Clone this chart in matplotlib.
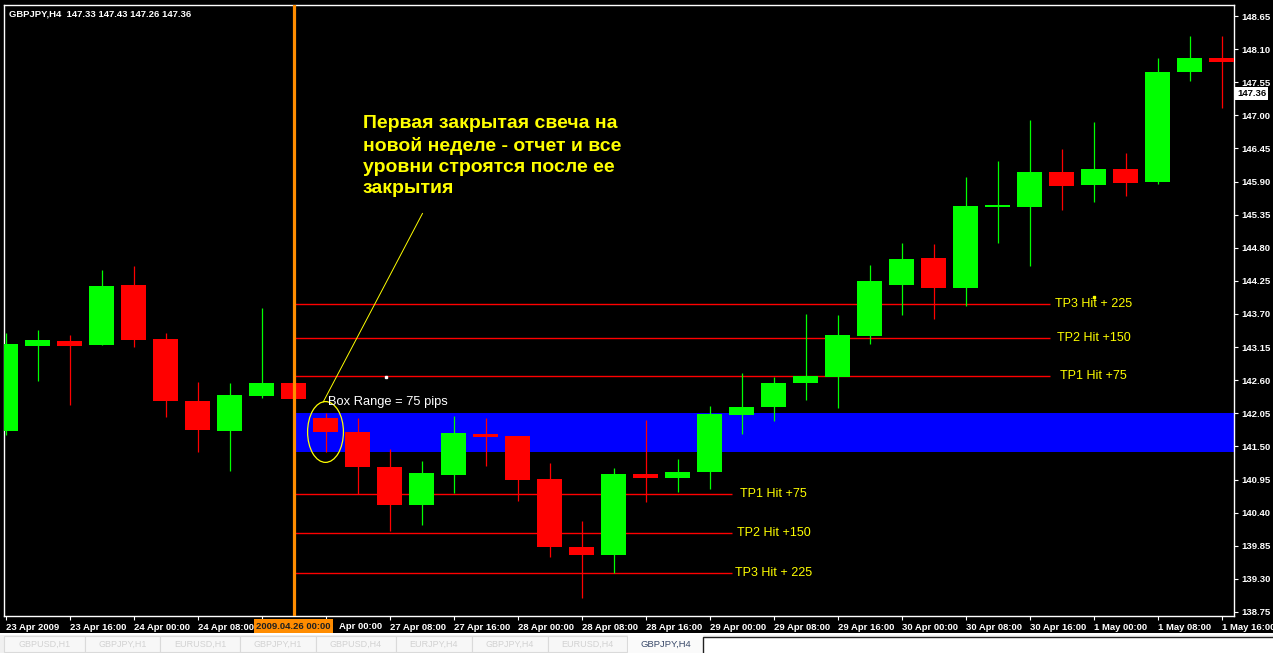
import numpy as np
import matplotlib.pyplot as plt
from matplotlib.patches import Ellipse, Rectangle
from matplotlib.transforms import blended_transform_factory, ScaledTranslation

plt.rcParams['font.family'] = ['Liberation Sans', 'DejaVu Sans']

# свечи GBPJPY H4
opens = [141.76, 143.17, 143.25, 143.18, 144.18, 143.28, 142.25, 141.76, 142.34, 142.55,
         141.97, 141.74, 141.16, 140.52, 141.03, 141.71, 141.67, 140.96, 139.83, 139.70,
         141.04, 140.98, 141.07, 142.02, 142.16, 142.55, 142.65, 143.33, 144.18, 144.63,
         144.13, 145.47, 145.48, 146.06, 145.84, 146.11, 145.89, 147.72, 147.96]
highs = [143.38, 143.43, 143.35, 144.43, 144.50, 143.38, 142.57, 142.55, 143.80, 142.57,
         142.06, 141.97, 141.46, 141.26, 142.01, 141.97, 141.67, 141.22, 140.26, 141.14,
         141.94, 141.29, 142.17, 142.72, 142.65, 143.70, 143.68, 144.51, 144.88, 144.86,
         145.98, 146.24, 146.92, 146.44, 146.89, 146.37, 147.95, 148.32, 148.32]
lows = [141.69, 142.59, 142.19, 143.18, 143.15, 141.99, 141.41, 141.09, 142.30, 142.27,
        141.41, 140.71, 140.10, 140.20, 140.73, 141.18, 140.60, 139.67, 138.99, 139.40,
        140.57, 140.74, 140.79, 141.71, 141.92, 142.27, 142.14, 143.20, 143.68, 143.62,
        143.83, 144.88, 144.50, 145.43, 145.56, 145.66, 145.86, 147.57, 147.12]
closes = [143.20, 143.27, 143.17, 144.16, 143.26, 142.25, 141.77, 142.35, 142.55, 142.29,
          141.74, 141.15, 140.52, 141.06, 141.72, 141.65, 140.95, 139.83, 139.69, 141.04,
          140.98, 141.07, 142.04, 142.16, 142.55, 142.67, 143.35, 144.25, 144.61, 144.13,
          145.49, 145.51, 146.06, 145.83, 146.11, 145.88, 147.72, 147.95, 147.89]

# подписи времени (24 Apr 16:00 и начало 27 Apr 00:00 закрыты меткой линии)
time_labels = ['23 Apr 2009', '23 Apr 16:00', '24 Apr 00:00', '24 Apr 08:00', '',
               '', '27 Apr 08:00', '27 Apr 16:00', '28 Apr 00:00', '28 Apr 08:00',
               '28 Apr 16:00', '29 Apr 00:00', '29 Apr 08:00', '29 Apr 16:00', '30 Apr 00:00',
               '30 Apr 08:00', '30 Apr 16:00', '1 May 00:00', '1 May 08:00', '1 May 16:00']
price_ticks = [138.75, 139.30, 139.85, 140.40, 140.95, 141.50, 142.05, 142.60, 143.15, 143.70,
               144.25, 144.80, 145.35, 145.90, 146.45, 147.00, 147.55, 148.10, 148.65]

week_start_bar = 9
first_bar = 10
box_top, box_bottom = 142.05, 141.40
tp_up = [142.67, 143.30, 143.87]
tp_down = [140.71, 140.06, 139.40]
tp_names_up = ['TP1 Hit +75', 'TP2 Hit +150', 'TP3 Hit + 225']
tp_names_down = ['TP1 Hit +75', 'TP2 Hit +150', 'TP3 Hit + 225']
tp_up_end, tp_down_end = 32.65, 22.7
tp_up_label, tp_down_label = 34, 24
last_price = 147.36
header = 'GBPJPY,H4  147.33 147.43 147.26 147.36'
note = 'Первая закрытая свеча на\nновой неделе - отчет и все\nуровни строятся после ее\nзакрытия'

W, H = 1273, 653
fig = plt.figure(figsize=(W / 100, H / 100), dpi=100, facecolor='black')
ax = fig.add_axes([4 / W, 37 / H, 1230 / W, 611 / H])
ax.set_facecolor('black')
ax.set_xlim(-0.047, 38.39)
ax.set_ylim(138.683, 148.833)

o = np.array(opens)
c = np.array(closes)
idx = np.arange(len(o))
cols = np.where(c >= o, '#00FF00', '#FF0000')

# бокс и уровни
ax.add_patch(Rectangle((week_start_bar, box_bottom), 40, box_top - box_bottom,
                       color='#0000FF', zorder=1, lw=0))
for lvl in tp_up:
    ax.hlines(lvl, week_start_bar, tp_up_end, color='#FF0000', lw=1.0, zorder=2)
for lvl in tp_down:
    ax.hlines(lvl, week_start_bar, tp_down_end, color='#FF0000', lw=1.0, zorder=2)

# свечи
ax.vlines(idx, lows, highs, colors=cols, lw=0.9, zorder=3)
ax.bar(idx, np.maximum(np.abs(c - o), 0.03), bottom=np.minimum(o, c), width=0.78,
       color=cols, lw=0, zorder=4)

ax.axvline(week_start_bar, color='#FF8C00', lw=2.3, zorder=6)

for lvl, name in zip(tp_up, tp_names_up):
    ax.text(tp_up_label, lvl, name, color='#FFFF00', fontsize=9, ha='center', va='center', zorder=8)
for lvl, name in zip(tp_down, tp_names_down):
    ax.text(tp_down_label, lvl, name, color='#FFFF00', fontsize=9, ha='center', va='center', zorder=8)
ax.plot([tp_up_label], [143.98], 's', color='#FFFF00', ms=1.5, zorder=8)

ax.text(10.08, 142.24, 'Box Range = 75 pips', color='white', fontsize=9.3, ha='left', va='center', zorder=8)
ax.plot([11.89], [142.65], 's', color='white', ms=1.5, zorder=8)

ax.text(11.17, 147.00, note, color='#FFFF00', fontsize=14, fontweight='bold',
        ha='left', va='top', linespacing=1.32, zorder=8)
ax.plot([13.03, 9.93], [145.37, 142.24], color='#FFFF00', lw=0.7, zorder=7)
ax.add_patch(Ellipse((first_bar, 141.74), 1.12, 1.01, fill=False, ec='#FFFF00', lw=0.9, zorder=7))

ax.text(0.004, 0.986, header, transform=ax.transAxes, color='white', fontsize=6.8,
        fontweight='bold', ha='left', va='center')

# оси
for s in ax.spines.values():
    s.set_color('white')
    s.set_linewidth(1)
ax.yaxis.tick_right()
ax.set_yticks(price_ticks)
ax.set_yticklabels(['%.2f' % p for p in price_ticks])
ax.set_xticks(idx[::2])
ax.set_xticklabels(time_labels)
for lbl in ax.get_xticklabels():
    lbl.set_horizontalalignment('left')
ax.tick_params(colors='white', labelsize=6.8, length=3, width=0.8)
ax.tick_params(axis='x', pad=2)
ax.tick_params(axis='y', pad=2.5)
for lbl in ax.get_xticklabels() + ax.get_yticklabels():
    lbl.set_fontweight('bold')

tr = blended_transform_factory(ax.transData, ax.transAxes)
# видимая часть подписи 27 Apr 00:00 справа от метки
ax.text(first_bar, -0.0165, 'Apr 00:00',
        transform=tr + ScaledTranslation(0.13, 0, fig.dpi_scale_trans),
        ha='left', va='center', fontsize=6.8, fontweight='bold', color='white', clip_on=False)
ax.text(week_start_bar, -0.0165, '2009.04.26 00:00', transform=tr, ha='center', va='center',
        fontsize=6.8, fontweight='bold', color='#202020', zorder=10, clip_on=False,
        bbox=dict(boxstyle='square,pad=0.25', fc='#FF8C00', ec='none'))
tr2 = blended_transform_factory(ax.transAxes, ax.transData)
ax.text(1.0025, last_price, '%.2f' % last_price, transform=tr2, ha='left', va='center',
        fontsize=6.8, fontweight='bold', color='black', zorder=10, clip_on=False,
        bbox=dict(boxstyle='square,pad=0.2', fc='white', ec='none'))

# вкладки внизу
tab = fig.add_axes([0, 0, 1, 20 / H])
tab.set_xlim(0, W)
tab.set_ylim(20, 0)
tab.axis('off')
tab.add_patch(Rectangle((0, 0), W, 2, color='white', lw=0))
tab.add_patch(Rectangle((0, 2), W, 18, color='#F0F0F0', lw=0))
tab_edges = [4, 84.5, 160, 240, 316, 396, 472, 548, 627]
tab_names = ['GBPUSD,H1', 'GBPJPY,H1', 'EURUSD,H1', 'GBPJPY,H1',
             'GBPUSD,H4', 'EURJPY,H4', 'GBPJPY,H4', 'EURUSD,H4']
for a, b, name in zip(tab_edges[:-1], tab_edges[1:], tab_names):
    tab.add_patch(Rectangle((a, 3), b - a, 16, fc='#F7F7F7', ec='#DADADA', lw=0.8))
    tab.text((a + b) / 2, 11, name, color='#D2D2D2', fontsize=6.5, ha='center', va='center')
tab.add_patch(Rectangle((628, 2), 75, 18, fc='#FAFAFA', ec='none'))
tab.text(666, 11.5, 'GBPJPY,H4', color='#3A4A6A', fontsize=6.8, ha='center', va='center')
tab.add_patch(Rectangle((703, 3.5), 572, 20, fc='white', ec='#202020', lw=1))

fig.savefig('out.png', dpi=100, facecolor='black')
